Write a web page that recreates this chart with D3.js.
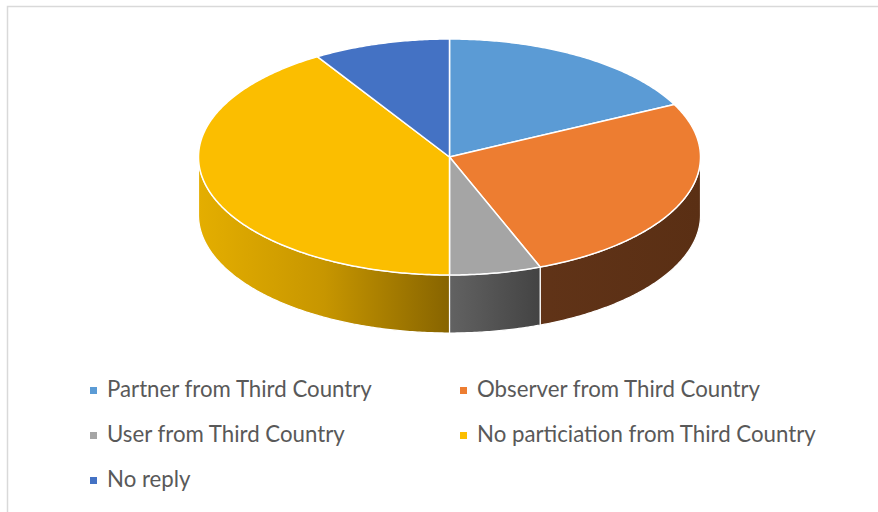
<!DOCTYPE html>
<html>
<head>
<meta charset="utf-8">
<script src="https://cdn.jsdelivr.net/npm/d3@7"></script>
<style>
  html, body { margin: 0; padding: 0; background: #fff; }
  svg { display: block; }
</style>
</head>
<body>
<svg id="chart" width="878" height="512"></svg>
<script>
// ---- data ----
const categories = [
  "Partner from Third Country",
  "Observer from Third Country",
  "User from Third Country",
  "No particiation from Third Country",
  "No reply"
];
const values = [6, 9, 2, 14, 3];
const topColors = ["#5b9bd5", "#ed7d31", "#a5a5a5", "#fbbe00", "#4472c4"];

// ---- layout ----
const W = 878, H = 512;
const cx = 449.5, cy = 157, rx = 251, ry = 118, depth = 58;

const svg = d3.select("#chart");

// border
svg.append("rect")
  .attr("x", 7.5).attr("y", 6.5)
  .attr("width", 1000).attr("height", 1000)
  .attr("fill", "none").attr("stroke", "#d9d9d9").attr("stroke-width", 1.5);

const defs = svg.append("defs");
// side shading gradients (horizontal lighting)
const sideStops = [
  [[0, "#3f6f9c"], [1, "#2f5880"]],
  [[0, "#633519"], [1, "#5a2f14"]],
  [[0, "#626262"], [1, "#404040"]],
  [[0, "#e4ae00"], [0.5, "#c79600"], [1, "#876400"]],
  [[0, "#2f4f8a"], [1, "#233c6a"]]
];
// gradient ranges in x (fraction of pie) for each slice side
const sideRange = [
  [0.5, 1], [0.55, 1], [0.5, 0.7], [0, 0.5], [0, 0.5]
];
sideStops.forEach((stops, i) => {
  const g = defs.append("linearGradient")
    .attr("id", "side" + i)
    .attr("gradientUnits", "userSpaceOnUse")
    .attr("x1", cx - rx + 2 * rx * sideRange[i][0]).attr("y1", 0)
    .attr("x2", cx - rx + 2 * rx * sideRange[i][1]).attr("y2", 0);
  stops.forEach(s => g.append("stop").attr("offset", s[0]).attr("stop-color", s[1]));
});

const pie = d3.pie().sort(null).value(d => d).startAngle(0).endAngle(2 * Math.PI);
const arcs = pie(values);

const px = a => cx + rx * Math.sin(a);
const py = a => cy - ry * Math.cos(a);

function arcPoints(a0, a1, dy) {
  const n = Math.max(2, Math.ceil(Math.abs(a1 - a0) / 0.01));
  const pts = [];
  for (let k = 0; k <= n; k++) {
    const a = a0 + (a1 - a0) * k / n;
    pts.push([px(a), py(a) + dy]);
  }
  return pts;
}

const line = d3.line();

// sides (front half only: angles between PI/2 and 3PI/2)
const gSides = svg.append("g");
arcs.forEach((d, i) => {
  const a0 = Math.max(d.startAngle, Math.PI / 2);
  const a1 = Math.min(d.endAngle, 3 * Math.PI / 2);
  if (a1 <= a0) return;
  const top = arcPoints(a0, a1, 0);
  const bottom = arcPoints(a1, a0, depth);
  gSides.append("path")
    .attr("d", line(top.concat(bottom)) + "Z")
    .attr("fill", `url(#side${i})`)
    .attr("stroke", "#ffffff")
    .attr("stroke-width", 1.2)
    .attr("stroke-linejoin", "round");
});

// tops
const gTops = svg.append("g");
arcs.forEach((d, i) => {
  const pts = [[cx, cy]].concat(arcPoints(d.startAngle, d.endAngle, 0));
  gTops.append("path")
    .attr("d", line(pts) + "Z")
    .attr("fill", topColors[i])
    .attr("stroke", "#ffffff")
    .attr("stroke-width", 1.5)
    .attr("stroke-linejoin", "round");
});

// ---- legend ----
const legendPos = [
  [90, 397], [460, 397],
  [90, 442], [460, 442],
  [90, 487]
];
const fontFamily = "Lato, 'Open Sans', sans-serif";
// measure to fit the reference text width
const probe = svg.append("text").attr("font-family", fontFamily).attr("font-size", 20)
  .text(categories[0]);
const wProbe = probe.node().getComputedTextLength();
probe.remove();
const fs = 20 * 265 / wProbe;

const gLeg = svg.append("g");
categories.forEach((c, i) => {
  const [x, y] = legendPos[i];
  gLeg.append("rect")
    .attr("x", x).attr("y", y - 10)
    .attr("width", 7).attr("height", 7)
    .attr("fill", topColors[i]);
  gLeg.append("text")
    .attr("x", x + 17).attr("y", y)
    .attr("font-family", fontFamily)
    .attr("font-size", fs)
    .attr("fill", "#595959")
    .text(c);
});
</script>
</body>
</html>
